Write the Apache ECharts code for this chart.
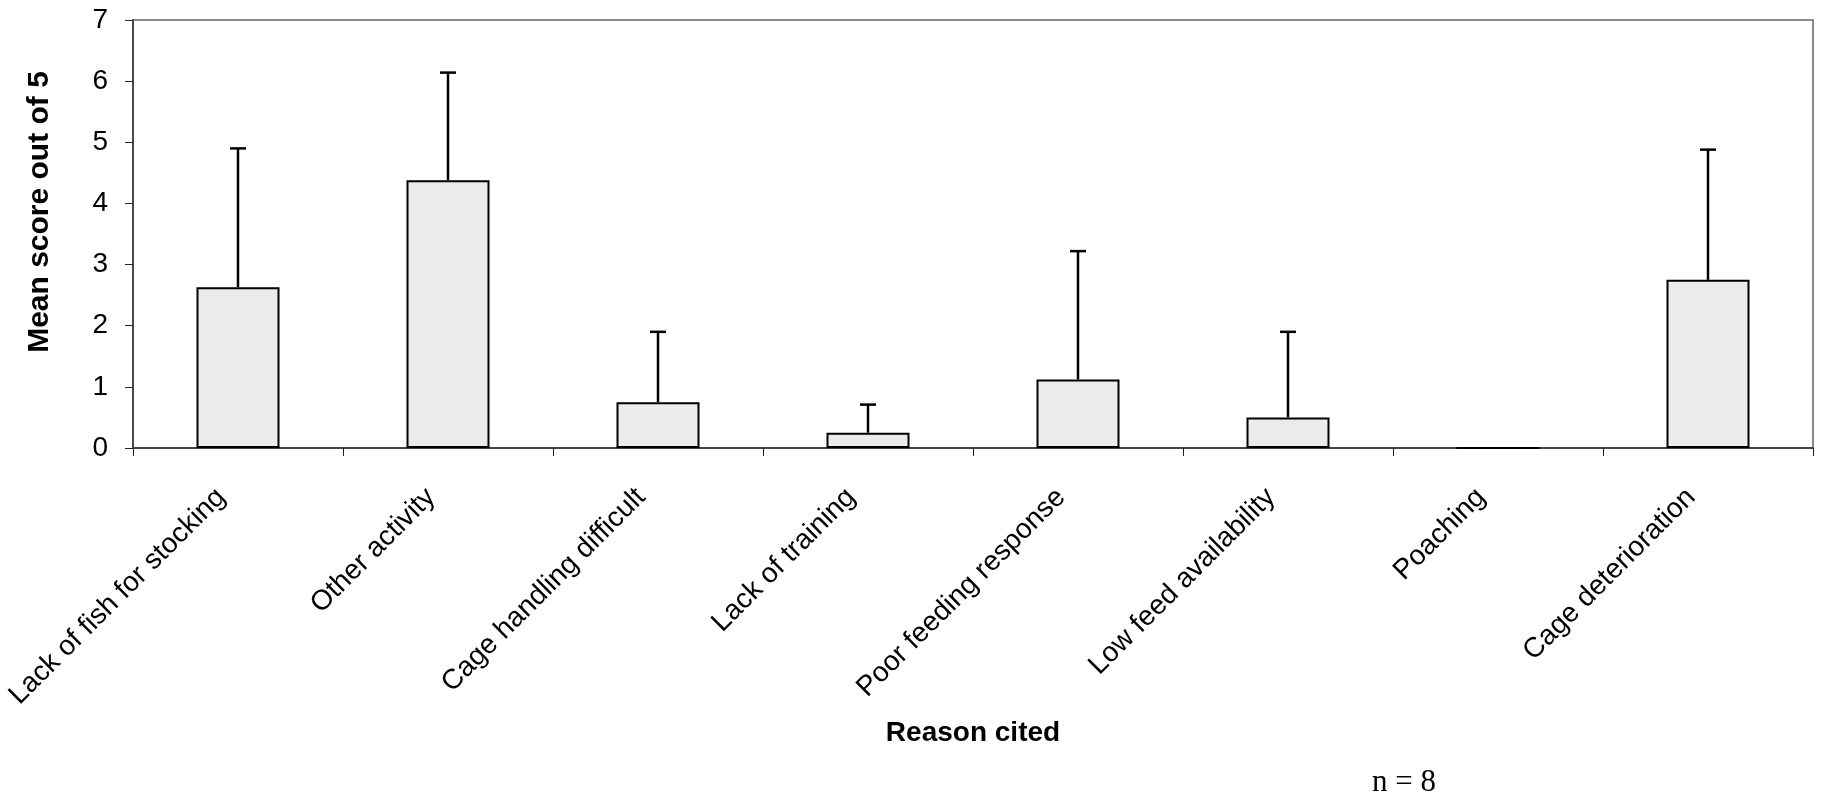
<!DOCTYPE html>
<html>
<head>
<meta charset="utf-8">
<script src="https://cdn.jsdelivr.net/npm/echarts@6/dist/echarts.min.js"></script>
<style>
  html, body { margin: 0; padding: 0; background: #fff; }
  #chart { width: 1824px; height: 798px; }
</style>
</head>
<body>
<div id="chart"></div>
<script>
// reasons cited and their mean scores (with the upper error bar value)
var reasons = [
  "Lack of fish for stocking",
  "Other activity",
  "Cage handling difficult",
  "Lack of training",
  "Poor feeding response",
  "Low feed availability",
  "Poaching",
  "Cage deterioration"
];
var meanScore = [2.63, 4.38, 0.75, 0.25, 1.12, 0.5, 0, 2.75];
var errUpper = [4.9, 6.14, 1.9, 0.71, 3.22, 1.9, 0, 4.88];
var yTicks = [0, 1, 2, 3, 4, 5, 6, 7];

var chart = echarts.init(document.getElementById("chart"));

var errData = reasons.map(function(r, i) {
  return [i, meanScore[i], errUpper[i]];
});

chart.setOption({
  animation: false,
  grid: {
    left: 133,
    right: 11,
    top: 20,
    bottom: 350,
    show: true,
    borderColor: "#8a8a8a",
    borderWidth: 2
  },
  xAxis: {
    type: "category",
    data: reasons,
    axisLine: { lineStyle: { color: "#444", width: 2 } },
    axisTick: { show: true, length: 8, lineStyle: { color: "#222", width: 1 } },
    axisLabel: {
      rotate: 45,
      interval: 0,
      margin: 28,
      padding: [0, 24, 0, 0],
      color: "#000",
      fontFamily: "Liberation Sans",
      fontSize: 28
    }
  },
  yAxis: {
    type: "value",
    min: yTicks[0],
    max: yTicks[yTicks.length - 1],
    interval: 1,
    splitLine: { show: false },
    axisLine: { show: true, lineStyle: { color: "#333", width: 1.5 } },
    axisTick: { show: true, length: 8, lineStyle: { color: "#222", width: 1 } },
    axisLabel: {
      margin: 25,
      color: "#000",
      fontFamily: "Liberation Sans",
      fontSize: 28
    }
  },
  graphic: [
    {
      type: "text",
      x: 40,
      y: 212,
      rotation: Math.PI / 2,
      style: {
        text: "Mean score out of 5",
        fontFamily: "Liberation Sans",
        fontWeight: "bold",
        fontSize: 30,
        fill: "#000",
        align: "center",
        verticalAlign: "middle"
      }
    },
    {
      type: "text",
      x: 973,
      y: 733,
      style: {
        text: "Reason cited",
        fontFamily: "Liberation Sans",
        fontWeight: "bold",
        fontSize: 28,
        fill: "#000",
        align: "center",
        verticalAlign: "middle"
      }
    },
    {
      type: "text",
      x: 1372,
      y: 783,
      style: {
        text: "n = 8",
        fontFamily: "Liberation Serif",
        fontSize: 31,
        fill: "#000",
        align: "left",
        verticalAlign: "middle"
      }
    }
  ],
  series: [
    {
      type: "bar",
      data: meanScore,
      barWidth: 83,
      itemStyle: { color: "#ebebeb", borderColor: "#000", borderWidth: 2 },
      z: 2
    },
    {
      type: "custom",
      data: errData,
      z: 3,
      renderItem: function(params, api) {
        var i = api.value(0);
        var lo = api.coord([i, api.value(1)]);
        var hi = api.coord([i, api.value(2)]);
        if (api.value(2) <= api.value(1)) return null;
        var style = { stroke: "#000", lineWidth: 2.5 };
        return {
          type: "group",
          children: [
            { type: "line", shape: { x1: lo[0], y1: lo[1], x2: hi[0], y2: hi[1] }, style: style },
            { type: "line", shape: { x1: hi[0] - 8, y1: hi[1], x2: hi[0] + 8, y2: hi[1] }, style: style }
          ]
        };
      }
    }
  ]
});
</script>
</body>
</html>
